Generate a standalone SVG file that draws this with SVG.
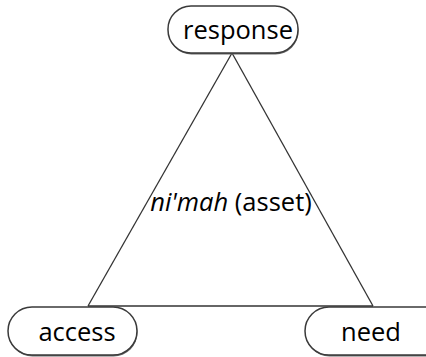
<svg xmlns="http://www.w3.org/2000/svg" width="426" height="357" viewBox="0 0 426 357">
<style>
.box{fill:#fff;stroke:#3a3a3a;stroke-width:1.5}
.shadow{fill:#666;stroke:none}
.lbl{font-family:"Open Sans","Liberation Sans",sans-serif;font-size:25.5px;fill:#000}
.edge{fill:none;stroke:#333;stroke-width:1.3}
</style>
<rect width="426" height="357" fill="#fff"/>
<g id="connectors">
<line class="edge" x1="232" y1="53" x2="88" y2="306"/>
<line class="edge" x1="232" y1="53" x2="373" y2="306"/>
<line class="edge" x1="88" y1="306" x2="373" y2="306"/>
</g>
<g id="response">
<rect class="shadow" x="168.5" y="7.5" width="130" height="47" rx="23"/>
<rect class="box" x="168" y="6" width="130" height="47" rx="23"/>
<text class="lbl" x="238" y="39" text-anchor="middle">response</text>
</g>
<g id="access">
<rect class="shadow" x="8.5" y="308.5" width="129" height="48" rx="24"/>
<rect class="box" x="8" y="307" width="129" height="48" rx="24"/>
<text class="lbl" x="77" y="341" text-anchor="middle">access</text>
</g>
<g id="need">
<rect class="shadow" x="305.5" y="308.5" width="150" height="48" rx="24"/>
<rect class="box" x="305" y="307" width="150" height="48" rx="24"/>
<text class="lbl" x="371" y="341" text-anchor="middle">need</text>
</g>
<g id="asset">
<text class="lbl" x="231" y="211" text-anchor="middle"><tspan font-style="italic">ni'mah</tspan> (asset)</text>
</g>
</svg>
